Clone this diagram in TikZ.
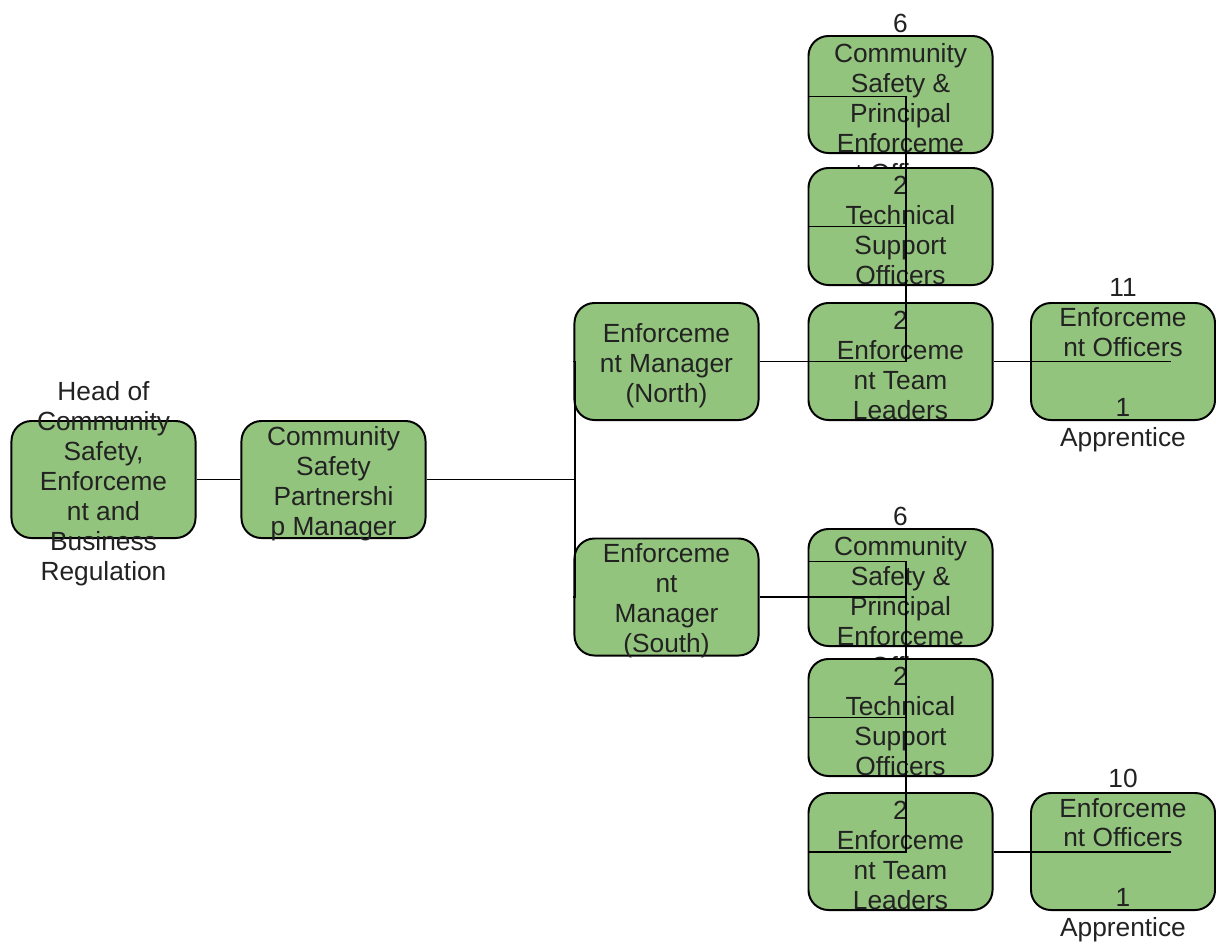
\documentclass[tikz,border=0pt]{standalone}
\usepackage{fontspec}
\setmainfont{Liberation Sans}
\usepackage{tikz}

\definecolor{boxgreen}{HTML}{93C47D}
\definecolor{inkgray}{HTML}{222222}

\tikzset{
    unit/.style={draw=black, fill=boxgreen, rounded corners=0.5cm, line width=1.4pt,
        minimum width=4.6cm, minimum height=2.925cm, inner sep=0pt},
    caption/.style={align=center, inner sep=0pt, text=inkgray, yshift=-0.1cm,
        font=\fontsize{18.7}{21.3}\selectfont},
    link/.style={draw=black, line width=1.4pt}
}

\begin{document}
\begin{tikzpicture}[x=0.025cm, y=-0.025cm]

    \useasboundingbox (0, 0) rectangle (1216, 943);

    \node [unit] (head) at (103.5, 479.5) {};
    \node [caption] (headT) at (head) {Head of\\Community\\Safety,\\Enforceme\\nt and\\Business\\Regulation};
    \node [unit] (csp) at (333.5, 479.5) {};
    \node [caption] (cspT) at (csp) {Community\\Safety\\Partnershi\\p Manager};

    \node [unit] (emN) at (666.5, 361.5) {};
    \node [caption] (emNT) at (emN) {Enforceme\\nt Manager\\(North)};
    \node [unit] (emS) at (666.5, 597) {};
    \node [caption] (emST) at (emS) {Enforceme\\nt\\Manager\\(South)};

    \node [unit] (cspeoN) at (900.5, 94.5) {};
    \node [caption] (cspeoNT) at (cspeoN) {6\\Community\\Safety \&\\Principal\\Enforceme\\nt Officers};
    \node [unit] (tsoN) at (900.5, 226.5) {};
    \node [caption] (tsoNT) at (tsoN) {2\\Technical\\Support\\Officers};
    \node [unit] (etlN) at (900.5, 361.5) {};
    \node [caption] (etlNT) at (etlN) {2\\Enforceme\\nt Team\\Leaders};
    \node [unit] (eoN) at (1123, 361.5) {};
    \node [caption] (eoNT) at (eoN) {11\\Enforceme\\nt Officers\\\mbox{}\\1\\Apprentice};

    \node [unit] (cspeoS) at (900.5, 587.5) {};
    \node [caption] (cspeoST) at (cspeoS) {6\\Community\\Safety \&\\Principal\\Enforceme\\nt Officers};
    \node [unit] (tsoS) at (900.5, 717.5) {};
    \node [caption] (tsoST) at (tsoS) {2\\Technical\\Support\\Officers};
    \node [unit] (etlS) at (900.5, 851.5) {};
    \node [caption] (etlST) at (etlS) {2\\Enforceme\\nt Team\\Leaders};
    \node [unit] (eoS) at (1123, 851.5) {};
    \node [caption] (eoST) at (eoS) {10\\Enforceme\\nt Officers\\\mbox{}\\1\\Apprentice};

    \coordinate (jM) at (575, 479.5);
    \coordinate (jN) at (906, 361.5);
    \coordinate (jS) at (906, 597);

    \draw [link] (head) -- (csp);
    \draw [link] (csp.east) -- (jM) |- (emN.west);
    \draw [link] (jM) |- (emS.west);

    \draw [link] (emN.east) -- (jN) |- ([yshift=-0.05cm]cspeoN.west);
    \draw [link] (jN) |- (tsoN.west);
    \draw [link] (jN) -- (etlN.west);
    \draw [link] (etlN.east) -- ([xshift=-1.125cm]eoN.east);

    \draw [link] (emS.east) -- (jS) |- ([yshift=0.65cm]cspeoS.west);
    \draw [link] (jS) |- (tsoS.west);
    \draw [link] (jS) |- (etlS.west);
    \draw [link] (etlS.east) -- ([xshift=-1.125cm]eoS.east);

\end{tikzpicture}
\end{document}
